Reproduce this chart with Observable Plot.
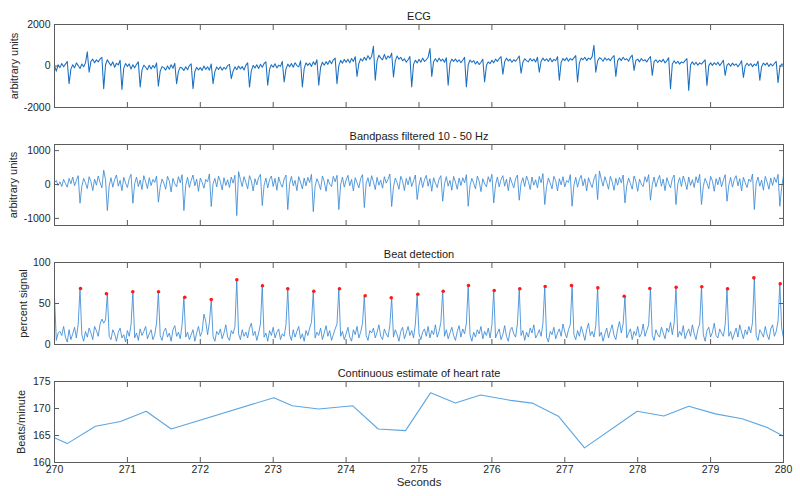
<!DOCTYPE html>
<html>
<head>
<meta charset="utf-8">
<script src="https://cdn.jsdelivr.net/npm/d3@7"></script>
<script src="https://cdn.jsdelivr.net/npm/@observablehq/plot@0.6"></script>
<style>
  html, body { margin: 0; padding: 0; background: #fff; }
  #chart { width: 800px; height: 496px; overflow: hidden; }
  #chart svg { display: block; }
</style>
</head>
<body>
<div id="chart"></div>
<script>
// ---------------- DATA ----------------
const sampleStart = 270;          // seconds
const sampleStep = 0.025;         // seconds between samples
const secondTicks = [270, 271, 272, 273, 274, 275, 276, 277, 278, 279, 280];

const panelTitles = ["ECG", "Bandpass filtered 10 - 50 Hz", "Beat detection", "Continuous estimate of heart rate"];
const panelYLabels = ["arbitrary units", "arbitrary units", "percent signal", "Beats/minute"];
const xLabel = "Seconds";

const ecgTicks = [-2000, 0, 2000];
const bandpassTicks = [-1000, 0, 1000];
const beatTicks = [0, 50, 100];
const hrTicks = [160, 165, 170, 175];

// raw ECG (arbitrary units), one row per ~0.25 s
const ecgRows = [
  [0, -250, 60, -80, 120, -40, 90, 220, -850, -150],
  [60, -90, 150, 20, -120, 100, -40, 150, 680, -300],
  [220, 330, 150, 300, 200, 340, 420, -1090, 60, 300],
  [150, 20, 200, -60, 130, 50, 280, -1130, -100, 120],
  [-20, 100, -150, 60, -90, 80, 200, -1016, -200, 40],
  [-60, -180, 40, -140, 20, -90, 150, -970, -250, -30],
  [-80, -200, 0, -160, 60, -110, 130, -850, -260, -60],
  [-100, -220, -40, -180, 20, 100, -1090, -280, -60, -190],
  [-80, -210, 0, -170, -40, -200, 100, -850, -270, -50],
  [-170, -40, -200, -60, -150, 20, 80, -610, -250, -40],
  [-180, 0, -140, -30, -190, 40, 150, -1016, -220, 30],
  [-100, 60, -120, 80, -60, 120, 200, -930, -150, 60],
  [-60, 110, -90, 40, -20, 220, -770, -150, 90, -40],
  [120, -60, 160, 20, -40, 250, -1016, -120, 150, 30],
  [140, -20, 200, 60, 300, -930, -60, 180, 40, 210],
  [80, 260, 110, 300, 380, -850, 20, 270, 130, 320],
  [180, 330, 150, 360, 220, 450, -500, 120, 350, 240],
  [420, 280, 500, 330, 460, 950, -690, 260, 520, 380],
  [300, 560, 320, 480, 390, 620, -530, 250, 480, 330],
  [420, 250, 350, 180, 300, 460, -1016, 80, 280, 150],
  [320, 180, 380, 220, 300, 420, 840, -500, 200, 350],
  [200, 380, 240, 330, 180, 400, -930, 120, 330, 220],
  [340, 200, 300, 160, 280, 420, -1016, 60, 290, 180],
  [260, 100, 220, 70, 180, 330, -770, 20, 200, 110],
  [280, 150, 330, 220, 360, 450, -400, 200, 380, 240],
  [330, 180, 300, 230, 350, 480, -350, 180, 350, 260],
  [200, 360, 240, 330, 190, 420, -300, 230, 380, 250],
  [350, 220, 380, 200, 320, 260, 450, -690, 180, 360],
  [260, 400, 230, 360, 280, 390, 500, -770, 150, 380],
  [300, 420, 260, 380, 320, 450, 1000, -300, 240, 400],
  [350, 230, 400, 280, 360, 250, 410, 500, -500, 260],
  [380, 260, 420, 300, 350, 230, 420, 520, -210, 270],
  [330, 200, 360, 250, 310, 190, 350, 450, -450, 220],
  [300, 170, 280, 200, 320, 150, 260, 400, -1094, 100],
  [250, 120, 230, 90, 200, 150, 260, 350, -1176, 60],
  [200, 60, 180, 40, 150, 90, 200, 300, -934, 20],
  [150, 30, 160, 60, 180, 20, 140, 280, -450, 40],
  [120, -10, 140, 30, 100, -40, 90, 250, -550, 0],
  [130, 10, 120, -30, 90, 20, 230, -690, -20, 140],
  [40, 150, -20, 110, 0, 120, 220, -800, -50, 100],
  [80]
];

// bandpass filtered signal, one segment per detected beat
const bandpassSegments = [
  [50, 120, -30, 80, -60, 150, 30, -80, 180, 20, 220, -40, 120, 260],
  [-552, -60, 180, 50, -120, 230, 90, -180, 160, -20, 250, 60, -100, 420, 150],
  [-768, -40, 200, -80, 150, 280, -50, 120, -180, 210, 40, -90, 170, 300],
  [-552, 30, 220, -60, 130, -150, 260, 80, -120, 200, -30, 150, 60, 250],
  [-520, -80, 160, 40, -140, 240, 100, -220, 180, 20, -70, 230, 50, 290],
  [-768, -20, 210, -90, 120, 280, -40, 160, -200, 190, 60, -110, 150, 80, 310],
  [-650, 20, 180, -70, 250, 90, -160, 200, -30, 140, -90, 220, 40, 270],
  [-916, 380, 150, -60, 230, 60, -130, 260, 110, -190, 170, -10, 200, 300],
  [-620, -30, 190, -100, 140, 250, -60, 180, -170, 220, 30, -80, 160, 280],
  [-740, 10, 240, -40, 120, -180, 230, 70, -130, 190, -40, 210, 60, 300],
  [-800, -50, 170, 30, -150, 250, 90, -200, 160, 10, -60, 240, 80, 270],
  [-740, -10, 220, -80, 130, 270, -40, 150, -190, 200, 50, -100, 180, 290],
  [-680, 30, 200, -60, 260, 80, -150, 210, -20, 130, -110, 230, 40, 150, 310],
  [-650, -70, 190, 50, -140, 240, 100, -180, 180, -10, 230, -60, 110, 280],
  [-443, -20, 210, -90, 140, 270, -50, 170, -200, 200, 40, -90, 160, 260],
  [-493, 20, 230, -50, 120, -170, 240, 70, -140, 190, -30, 200, 50, 290],
  [-641, -40, 180, 40, -130, 250, 100, -210, 170, 20, -70, 230, 70, 300],
  [-543, -10, 220, -70, 140, 260, -50, 160, -180, 210, 50, -100, 170, 280],
  [-464, 30, 200, -60, 250, 90, -150, 220, -20, 140, -100, 240, 50, 320],
  [-591, -60, 190, 40, -130, 240, 110, -190, 170, -10, 230, -70, 120, 60, 290],
  [-641, -20, 210, -80, 150, 270, -40, 170, -190, 200, 40, -90, 160, 300],
  [-443, 400, 160, -50, 230, 60, -140, 240, 80, -170, 180, -20, 210, 50, 280],
  [-543, -40, 190, 30, -140, 250, 90, -200, 160, 10, -60, 230, 70, 290],
  [-464, -10, 220, -70, 130, 270, -50, 160, -180, 200, 40, -100, 170, 280],
  [-591, 20, 200, -60, 250, 80, -150, 220, -30, 140, -90, 230, 50, 300],
  [-591, -50, 180, 40, -130, 240, 100, -200, 170, -10, 220, -70, 130, 290],
  [-493, -20, 210, -80, 150, 260, -40, 170, -190, 210, 50, -90, 160, 80, 310],
  [-739, 30, 220, -50, 130, -170, 240, 70, -140, 190, -30, 210, 60, 300],
  [-641, -80, 250]
];

// beat detection signal (percent), one segment per detected beat
const beatSignalSegments = [
  [58, 5, 14, 16, 11, 22, 9, 3, 18, 6, 13, 21, 8, 25],
  [68.3, 12, 4, 16, 9, 20, 14, 6, 22, 17, 10, 25, 31, 26, 30],
  [61.8, 10, 6, 18, 13, 4, 15, 20, 8, 12, 3, 17, 10, 24],
  [64.3, 8, 14, 5, 19, 11, 16, 22, 7, 13, 18, 6, 12, 26],
  [64.3, 11, 5, 16, 20, 9, 14, 4, 18, 23, 10, 15, 7, 24],
  [57.7, 9, 15, 6, 12, 18, 4, 14, 22, 10, 16, 37, 28, 12, 27],
  [54.9, 10, 4, 16, 12, 19, 7, 14, 24, 9, 5, 17, 13, 22],
  [78.9, 13, 6, 18, 10, 15, 8, 20, 26, 11, 16, 5, 14, 25],
  [71.6, 9, 14, 4, 17, 11, 21, 8, 15, 19, 6, 13, 10, 24],
  [67.9, 12, 5, 18, 9, 16, 22, 7, 13, 4, 17, 11, 20, 27],
  [65, 8, 15, 11, 20, 6, 14, 23, 10, 17, 5, 12, 19, 25],
  [67.9, 10, 16, 6, 13, 21, 9, 4, 18, 12, 22, 8, 15, 26],
  [59.4, 11, 5, 17, 14, 20, 8, 15, 24, 10, 6, 19, 13, 9, 23],
  [57, 9, 18, 12, 4, 16, 21, 7, 14, 22, 11, 17, 8, 25],
  [61.3, 13, 6, 15, 19, 10, 22, 8, 17, 12, 24, 9, 16, 27],
  [65, 10, 18, 7, 14, 21, 11, 5, 16, 23, 9, 19, 13, 26],
  [72, 12, 4, 15, 9, 18, 13, 22, 7, 16, 11, 20, 8, 24],
  [65.9, 8, 14, 19, 6, 12, 23, 10, 4, 17, 21, 13, 9, 25],
  [67.9, 11, 17, 5, 15, 9, 20, 14, 24, 8, 12, 18, 10, 26],
  [70.7, 9, 3, 16, 12, 21, 7, 14, 19, 10, 25, 15, 8, 18, 24],
  [72, 12, 6, 17, 10, 22, 14, 5, 18, 26, 11, 16, 9, 23],
  [69.1, 10, 15, 4, 13, 20, 8, 17, 24, 11, 6, 19, 28, 14, 25],
  [58.9, 8, 14, 19, 6, 16, 11, 22, 9, 13, 25, 10, 17, 24],
  [68.3, 11, 5, 18, 12, 9, 21, 14, 7, 20, 15, 27, 12, 26],
  [69.9, 9, 16, 11, 23, 7, 14, 19, 10, 24, 13, 6, 18, 25],
  [70.4, 12, 4, 17, 21, 9, 15, 26, 11, 8, 19, 14, 10, 24],
  [67.9, 10, 16, 6, 13, 20, 9, 24, 15, 7, 18, 12, 22, 14, 27],
  [81.3, 11, 5, 18, 14, 9, 22, 12, 6, 19, 24, 10, 16, 28],
  [74, 20, 8]
];

// detected beats (red markers)
const beatTimes = [270.357, 270.713, 271.074, 271.427, 271.787, 272.150, 272.501, 272.853, 273.200, 273.557,
  273.909, 274.262, 274.619, 274.984, 275.332, 275.679, 276.032, 276.383, 276.731, 277.092,
  277.453, 277.815, 278.166, 278.528, 278.879, 279.232, 279.593, 279.955];
const beatPeaks = [68.3, 61.8, 64.3, 64.3, 57.7, 54.9, 78.9, 71.6, 67.9, 65, 67.9, 59.4, 57, 61.3,
  65, 72, 65.9, 67.9, 70.7, 72, 69.1, 58.9, 68.3, 69.9, 70.4, 67.9, 81.3, 74];

// heart rate estimate
const hrTime = [270.0, 270.174, 270.562, 270.905, 271.258, 271.601, 273.008, 273.261, 273.626, 274.092,
  274.44, 274.815, 275.158, 275.5, 275.844, 276.255, 276.553, 276.918, 277.27, 277.993,
  278.358, 278.7, 279.067, 279.433, 279.776, 280.0];
const hrBpm = [164.6, 163.5, 166.7, 167.6, 169.5, 166.2, 172.0, 170.5, 169.9, 170.5,
  166.2, 165.9, 172.9, 171.0, 172.5, 171.5, 171.0, 168.5, 162.7, 169.5,
  168.6, 170.4, 169.0, 168.1, 166.5, 164.9];

// ---------------- BUILD ----------------
const toSeries = (values) => values.map((v, i) => ({t: sampleStart + i * sampleStep, v}));
const ecgData = toSeries(ecgRows.flat());
const bandpassData = toSeries(bandpassSegments.flat());
const beatData = toSeries(beatSignalSegments.flat());
const beatDots = beatTimes.map((t, i) => ({t, v: beatPeaks[i]}));
const hrData = hrTime.map((t, i) => ({t, v: hrBpm[i]}));

const FONT = "'Liberation Sans', Arial, Helvetica, sans-serif";
const INK = "#262626";
const FRAME = "#5c5c5c";

function panel({height, marginTop, marginBottom, yDomain, yTicks, title, yLabel, yLabelDx, marks, showX}) {
  const fmt = (d) => String(d);
  const all = [
    ...marks,
    Plot.frame({stroke: FRAME, strokeWidth: 1}),
    Plot.axisX(secondTicks, {anchor: "bottom", tickSize: -5, tickFormat: () => "", label: null, stroke: FRAME}),
    Plot.axisX(secondTicks, {anchor: "top", tickSize: -5, tickFormat: () => "", label: null, stroke: FRAME}),
    Plot.axisY(yTicks, {anchor: "left", tickSize: -5, tickFormat: () => "", label: null, stroke: FRAME}),
    Plot.axisY(yTicks, {anchor: "right", tickSize: -5, tickFormat: () => "", label: null, stroke: FRAME}),
    Plot.axisY(yTicks, {anchor: "left", tickSize: 0, tickPadding: 4, tickFormat: fmt, label: null, fill: INK, fontSize: 10.5}),
    Plot.text([title], {text: (d) => d, frameAnchor: "top", dy: -12, fontSize: 11, fill: "#1a1a1a"}),
    Plot.text([yLabel], {text: (d) => d, frameAnchor: "left", textAnchor: "middle", lineAnchor: "middle", dx: yLabelDx, rotate: -90, fontSize: 11, fill: INK})
  ];
  if (showX) {
    all.push(Plot.axisX(secondTicks, {anchor: "bottom", tickSize: 0, tickPadding: 3, tickFormat: fmt, label: null, fill: INK, fontSize: 10.5}));
    all.push(Plot.text([xLabel], {text: (d) => d, frameAnchor: "bottom", dy: 23, fontSize: 11.5, fill: INK}));
  }
  return Plot.plot({
    width: 800,
    height,
    marginLeft: 54,
    marginRight: 17,
    marginTop,
    marginBottom,
    style: {fontFamily: FONT, fontSize: "10.5px", color: INK, background: "white", overflow: "visible"},
    x: {domain: [270, 280]},
    y: {domain: yDomain},
    marks: all
  });
}

const chart = document.getElementById("chart");

chart.append(panel({
  height: 118, marginTop: 24, marginBottom: 11,
  yDomain: [-2000, 2000], yTicks: ecgTicks,
  title: panelTitles[0], yLabel: panelYLabels[0], yLabelDx: -40.5,
  marks: [Plot.line(ecgData, {x: "t", y: "v", stroke: "#1a6fc0", strokeWidth: 1.05, clip: true})]
}));

chart.append(panel({
  height: 118, marginTop: 26, marginBottom: 11,
  yDomain: [-1210, 1180], yTicks: bandpassTicks,
  title: panelTitles[1], yLabel: panelYLabels[1], yLabelDx: -41,
  marks: [Plot.line(bandpassData, {x: "t", y: "v", stroke: "#3a8ad4", strokeWidth: 0.85, clip: true})]
}));

chart.append(panel({
  height: 119, marginTop: 26, marginBottom: 11,
  yDomain: [0, 100], yTicks: beatTicks,
  title: panelTitles[2], yLabel: panelYLabels[2], yLabelDx: -31,
  marks: [
    Plot.line(beatData, {x: "t", y: "v", stroke: "#3a8ad4", strokeWidth: 0.85, clip: true}),
    Plot.dot(beatDots, {x: "t", y: "v", r: 1.8, fill: "#ff1a1a", stroke: "none"})
  ]
}));

chart.append(panel({
  height: 141, marginTop: 26, marginBottom: 34,
  yDomain: [160, 175], yTicks: hrTicks,
  title: panelTitles[3], yLabel: panelYLabels[3], yLabelDx: -33,
  marks: [Plot.line(hrData, {x: "t", y: "v", stroke: "#5ba6e3", strokeWidth: 1.1, clip: true})],
  showX: true
}));
</script>
</body>
</html>
